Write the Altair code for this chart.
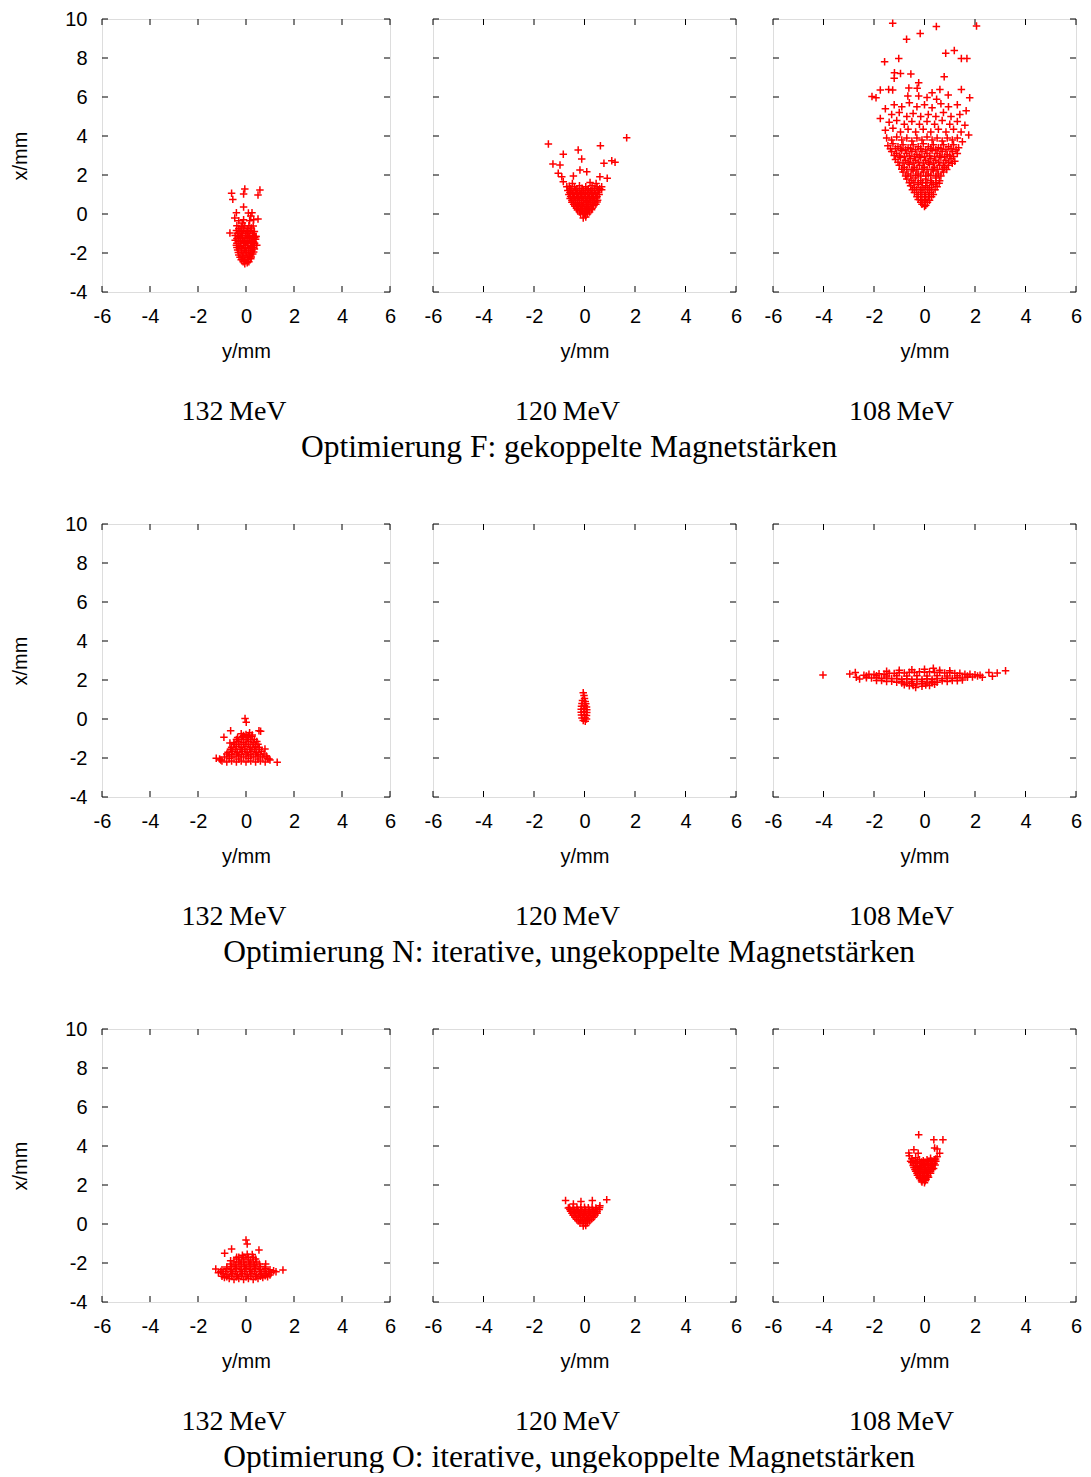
import altair as alt
import pandas as pd

SANS = "Liberation Sans"
SERIF = "Liberation Serif"
RED = "#ff0000"

X_TICKS = [-6, -4, -2, 0, 2, 4, 6]
Y_TICKS = [-4, -2, 0, 2, 4, 6, 8, 10]
ENERGIES = ["132\u2009MeV", "120\u2009MeV", "108\u2009MeV"]
CAPTIONS = [
    "Optimierung F: gekoppelte Magnetstärken",
    "Optimierung N: iterative, ungekoppelte Magnetstärken",
    "Optimierung O: iterative, ungekoppelte Magnetstärken",
]

# (y/mm, x/mm) pairs
F132 = [
    (-0.05, -2.55), (0.05, -2.5),
    (-0.2, -2.35), (-0.05, -2.4), (0.1, -2.35), (0.2, -2.3),
    (-0.3, -2.1), (-0.15, -2.15), (0.0, -2.1), (0.15, -2.15), (0.28, -2.05),
    (-0.35, -1.85), (-0.2, -1.9), (-0.05, -1.85), (0.1, -1.9), (0.25, -1.85), (0.35, -1.8),
    (-0.4, -1.6), (-0.25, -1.65), (-0.1, -1.6), (0.05, -1.6), (0.2, -1.65), (0.35, -1.6),
    (-0.45, -1.35), (-0.3, -1.4), (-0.15, -1.35), (0.0, -1.4), (0.15, -1.35), (0.3, -1.4), (0.4, -1.3),
    (-0.45, -1.1), (-0.3, -1.15), (-0.15, -1.1), (0.0, -1.1), (0.15, -1.15), (0.3, -1.1), (0.42, -1.15),
    (-0.4, -0.85), (-0.25, -0.9), (-0.1, -0.85), (0.05, -0.9), (0.2, -0.85), (0.35, -0.9),
    (-0.38, -0.6), (-0.2, -0.65), (-0.05, -0.6), (0.12, -0.6), (0.3, -0.62),
    (-0.3, -0.35), (-0.1, -0.3), (0.15, -0.35), (0.32, -0.3),
    (-0.12, -2.45), (0.12, -2.45),
    (-0.25, -2.22), (-0.08, -2.25), (0.08, -2.22), (0.22, -2.2),
    (-0.32, -1.98), (-0.12, -2.0), (0.02, -1.98), (0.18, -2.0), (0.32, -1.95),
    (-0.38, -1.72), (-0.18, -1.75), (-0.02, -1.72), (0.12, -1.75), (0.28, -1.72),
    (-0.38, -1.5), (-0.22, -1.5), (-0.08, -1.48), (0.08, -1.5), (0.22, -1.48), (0.36, -1.5),
    (-0.38, -1.25), (-0.22, -1.22), (-0.08, -1.25), (0.08, -1.22), (0.22, -1.25), (0.36, -1.22),
    (-0.35, -1.0), (-0.18, -0.98), (-0.02, -1.0), (0.12, -0.98), (0.28, -1.0),
    (-0.3, -0.75), (-0.12, -0.72), (0.05, -0.75), (0.22, -0.72),
    (-0.6, 1.06), (-0.05, 1.28), (0.58, 1.23), (0.5, 0.97), (-0.1, 1.03), (-0.55, 0.75),
    (-0.1, 0.36), (-0.4, 0.07), (-0.47, -0.2), (0.1, 0.05), (0.25, 0.07), (0.5, -0.26),
    (-0.15, -0.46), (-0.67, -0.97), (0.4, -1.16), (0.45, -1.6), (0.2, -0.1),
]

F120 = [
    (-0.05, -0.2), (0.05, -0.15),
    (-0.15, 0.0), (0.0, 0.02), (0.12, 0.0),
    (-0.28, 0.2), (-0.13, 0.18), (0.02, 0.2), (0.17, 0.2), (0.28, 0.22),
    (-0.38, 0.4), (-0.23, 0.38), (-0.08, 0.4), (0.07, 0.4), (0.22, 0.38), (0.36, 0.42),
    (-0.5, 0.6), (-0.35, 0.6), (-0.2, 0.58), (-0.05, 0.6), (0.1, 0.62), (0.25, 0.6), (0.4, 0.6), (0.5, 0.62),
    (-0.57, 0.8), (-0.42, 0.82), (-0.27, 0.8), (-0.12, 0.8), (0.03, 0.82), (0.18, 0.8), (0.33, 0.8), (0.48, 0.82),
    (-0.62, 1.0), (-0.47, 1.02), (-0.32, 1.0), (-0.17, 1.0), (-0.02, 1.02), (0.13, 1.0), (0.28, 1.0), (0.43, 1.02), (0.58, 1.0),
    (-0.66, 1.2), (-0.5, 1.22), (-0.35, 1.2), (-0.2, 1.2), (-0.05, 1.22), (0.1, 1.2), (0.25, 1.2), (0.4, 1.22), (0.55, 1.2), (0.68, 1.25),
    (-0.6, 1.42), (-0.4, 1.4), (-0.2, 1.45), (0.05, 1.4), (0.3, 1.45), (0.5, 1.4),
    (-0.2, 0.1), (-0.07, 0.1), (0.07, 0.1), (0.2, 0.1),
    (-0.32, 0.3), (-0.17, 0.3), (-0.02, 0.3), (0.13, 0.3), (0.3, 0.3),
    (-0.43, 0.5), (-0.28, 0.5), (-0.13, 0.5), (0.02, 0.5), (0.17, 0.5), (0.32, 0.5), (0.45, 0.5),
    (-0.5, 0.7), (-0.35, 0.7), (-0.2, 0.7), (-0.05, 0.7), (0.1, 0.7), (0.25, 0.7), (0.4, 0.7), (0.52, 0.7),
    (-0.55, 0.9), (-0.4, 0.9), (-0.25, 0.9), (-0.1, 0.9), (0.05, 0.9), (0.2, 0.9), (0.35, 0.9), (0.5, 0.9),
    (-0.58, 1.1), (-0.42, 1.1), (-0.27, 1.1), (-0.12, 1.1), (0.03, 1.1), (0.18, 1.1), (0.33, 1.1), (0.5, 1.1),
    (-0.55, 1.3), (-0.3, 1.3), (-0.1, 1.32), (0.15, 1.3), (0.4, 1.32), (0.6, 1.3),
    (-1.43, 3.59), (1.67, 3.91), (-0.84, 3.06), (-0.25, 3.28), (0.63, 3.5), (-0.11, 2.82),
    (-1.25, 2.56), (-0.97, 2.51), (0.77, 2.6), (1.08, 2.73), (1.21, 2.65), (-0.18, 2.26),
    (0.09, 2.17), (-1.04, 2.09), (-0.9, 1.91), (-0.44, 1.95), (0.61, 1.91), (0.9, 1.83),
    (-0.84, 1.66), (-0.48, 1.57), (0.22, 1.62), (0.46, 1.57), (0.68, 1.4), (-0.7, 1.4),
]

F108 = [
    (-1.26, 9.78), (0.47, 9.62), (2.06, 9.64), (-0.17, 9.26), (-0.71, 8.96), (0.84, 8.24),
    (1.18, 8.38), (1.46, 7.98), (1.68, 7.97), (-1.58, 7.81), (-1.02, 7.98), (-1.19, 7.25),
    (-0.95, 7.21), (-1.2, 6.96), (-0.54, 7.18), (0.78, 7.04), (-0.23, 6.73), (-1.75, 6.36),
    (-1.42, 6.39), (-1.26, 6.36), (-0.62, 6.46), (-0.29, 6.45), (1.46, 6.39), (-2.08, 6.02),
    (-1.92, 5.96), (1.79, 5.96), (0.3, 6.22), (0.61, 6.39), (0.94, 6.1), (-0.23, 6.05),
    (-0.66, 6.05), (0.1, 5.98), (0.48, 5.88),
    (-1.55, 5.4), (-1.2, 5.6), (-0.9, 5.5), (-0.6, 5.7), (-0.3, 5.5), (0.0, 5.6), (0.3, 5.45),
    (0.65, 5.65), (0.95, 5.5), (1.3, 5.6), (1.65, 5.3),
    (-1.3, 5.1), (-1.0, 5.2), (-0.7, 5.0), (-0.45, 5.15), (-0.15, 5.0), (0.15, 5.1), (0.45, 5.0),
    (0.75, 5.2), (1.05, 5.0), (1.4, 5.1),
    (-1.75, 4.9), (-1.4, 4.7), (-1.1, 4.8), (-0.8, 4.6), (-0.5, 4.75), (-0.2, 4.6), (0.1, 4.75),
    (0.4, 4.6), (0.7, 4.8), (1.0, 4.6), (1.3, 4.75), (1.6, 4.55),
    (-1.55, 4.3), (-1.25, 4.4), (-0.95, 4.2), (-0.65, 4.35), (-0.35, 4.2), (-0.05, 4.35), (0.25, 4.2),
    (0.55, 4.35), (0.85, 4.2), (1.15, 4.35), (1.45, 4.2), (1.75, 4.05),
    (-1.5, 3.9), (-1.3, 3.8), (-1.1, 3.95), (-0.9, 3.8), (-0.7, 3.9), (-0.5, 3.75), (-0.3, 3.9),
    (-0.1, 3.8), (0.1, 3.95), (0.3, 3.8), (0.5, 3.9), (0.7, 3.75), (0.9, 3.9), (1.1, 3.8), (1.3, 3.9), (1.5, 3.7),
    (-1.45, 3.5), (-1.25, 3.6), (-1.05, 3.45), (-0.85, 3.55), (-0.65, 3.4), (-0.45, 3.55), (-0.25, 3.45),
    (-0.05, 3.6), (0.15, 3.45), (0.35, 3.55), (0.55, 3.4), (0.75, 3.55), (0.95, 3.45), (1.15, 3.55), (1.35, 3.4),
    (-1.3, 3.2), (-1.1, 3.1), (-0.9, 3.25), (-0.7, 3.1), (-0.5, 3.2), (-0.3, 3.05), (-0.1, 3.2),
    (0.1, 3.1), (0.3, 3.25), (0.5, 3.1), (0.7, 3.2), (0.9, 3.05), (1.1, 3.2), (1.3, 3.1),
    (-1.15, 2.8), (-0.95, 2.9), (-0.75, 2.75), (-0.55, 2.85), (-0.35, 2.75), (-0.15, 2.9), (0.05, 2.75),
    (0.25, 2.85), (0.45, 2.75), (0.65, 2.9), (0.85, 2.75), (1.05, 2.85), (1.2, 2.7),
    (-1.0, 2.5), (-0.8, 2.4), (-0.6, 2.55), (-0.4, 2.4), (-0.2, 2.5), (0.0, 2.4), (0.2, 2.55),
    (0.4, 2.4), (0.6, 2.5), (0.8, 2.4), (0.95, 2.5),
    (-0.85, 2.15), (-0.65, 2.05), (-0.45, 2.2), (-0.25, 2.05), (-0.05, 2.15), (0.15, 2.05),
    (0.35, 2.2), (0.55, 2.05), (0.75, 2.15),
    (-0.7, 1.8), (-0.5, 1.7), (-0.35, 1.85), (-0.15, 1.7), (0.05, 1.8), (0.25, 1.7), (0.45, 1.85), (0.6, 1.7),
    (-0.55, 1.45), (-0.4, 1.35), (-0.25, 1.5), (-0.1, 1.35), (0.05, 1.45), (0.2, 1.35), (0.35, 1.5), (0.5, 1.4),
    (-0.4, 1.1), (-0.25, 1.0), (-0.1, 1.1), (0.05, 1.0), (0.2, 1.1), (0.35, 1.0),
    (-0.25, 0.75), (-0.1, 0.7), (0.05, 0.75), (0.2, 0.7),
    (-0.1, 0.5), (0.05, 0.45), (0.0, 0.38),
    (-1.35, 3.35), (-1.15, 3.35), (-0.95, 3.35), (-0.75, 3.3), (-0.55, 3.35), (-0.35, 3.3), (-0.15, 3.35),
    (0.05, 3.3), (0.25, 3.35), (0.45, 3.3), (0.65, 3.35), (0.85, 3.3), (1.05, 3.35), (1.25, 3.3),
    (-1.2, 3.0), (-1.0, 2.98), (-0.8, 2.95), (-0.6, 2.98), (-0.4, 2.95), (-0.2, 2.98), (0.0, 2.95),
    (0.2, 2.98), (0.4, 2.95), (0.6, 2.98), (0.8, 2.95), (1.0, 2.98), (1.15, 2.95),
    (-1.05, 2.65), (-0.85, 2.62), (-0.65, 2.65), (-0.45, 2.62), (-0.25, 2.65), (-0.05, 2.62),
    (0.15, 2.65), (0.35, 2.62), (0.55, 2.65), (0.75, 2.62), (0.95, 2.65), (1.1, 2.6),
    (-0.9, 2.3), (-0.7, 2.28), (-0.5, 2.3), (-0.3, 2.28), (-0.1, 2.3), (0.1, 2.28), (0.3, 2.3),
    (0.5, 2.28), (0.7, 2.3), (0.88, 2.28),
    (-0.75, 1.95), (-0.55, 1.95), (-0.35, 1.97), (-0.15, 1.95), (0.05, 1.95), (0.25, 1.97), (0.45, 1.95), (0.65, 1.95),
    (-0.6, 1.6), (-0.42, 1.6), (-0.25, 1.6), (-0.08, 1.6), (0.1, 1.6), (0.28, 1.6), (0.45, 1.6), (0.58, 1.58),
    (-0.48, 1.25), (-0.32, 1.25), (-0.17, 1.25), (-0.02, 1.25), (0.13, 1.25), (0.28, 1.25), (0.42, 1.25),
    (-0.3, 0.88), (-0.15, 0.88), (0.0, 0.88), (0.15, 0.88), (0.28, 0.88),
    (-0.15, 0.6), (0.0, 0.6), (0.12, 0.6),
]

N132 = [
    (-1.0, -2.15), (-0.8, -2.2), (-0.6, -2.15), (-0.4, -2.2), (-0.2, -2.15), (0.0, -2.2),
    (0.2, -2.15), (0.4, -2.2), (0.6, -2.15), (0.8, -2.2), (1.0, -2.1),
    (-0.9, -1.95), (-0.7, -1.9), (-0.5, -1.95), (-0.3, -1.9), (-0.1, -1.95), (0.1, -1.9),
    (0.3, -1.95), (0.5, -1.9), (0.7, -1.95), (0.85, -1.9),
    (-0.75, -1.7), (-0.55, -1.65), (-0.35, -1.7), (-0.15, -1.65), (0.05, -1.7), (0.25, -1.65),
    (0.45, -1.7), (0.65, -1.65),
    (-0.6, -1.45), (-0.4, -1.4), (-0.2, -1.45), (0.0, -1.4), (0.2, -1.45), (0.4, -1.4), (0.55, -1.45),
    (-0.5, -1.2), (-0.3, -1.15), (-0.1, -1.2), (0.1, -1.15), (0.3, -1.2), (0.45, -1.15),
    (-0.35, -0.95), (-0.15, -0.9), (0.05, -0.95), (0.25, -0.9),
    (-0.2, -0.75), (0.0, -0.8), (0.15, -0.7),
    (-1.1, -2.05), (-0.7, -2.02), (-0.3, -2.05), (0.1, -2.02), (0.5, -2.05), (0.9, -2.02),
    (-0.8, -1.8), (-0.6, -1.82), (-0.4, -1.8), (-0.2, -1.82), (0.0, -1.8), (0.2, -1.82),
    (0.4, -1.8), (0.6, -1.82), (0.75, -1.8),
    (-0.65, -1.55), (-0.45, -1.55), (-0.25, -1.55), (-0.05, -1.55), (0.15, -1.55), (0.35, -1.55), (0.55, -1.55),
    (-0.5, -1.3), (-0.3, -1.3), (-0.1, -1.3), (0.1, -1.3), (0.3, -1.3), (0.5, -1.3),
    (-0.4, -1.05), (-0.2, -1.05), (0.0, -1.05), (0.2, -1.05), (0.35, -1.05),
    (-0.1, -0.85), (0.1, -0.85),
    (-0.04, 0.03), (0.01, -0.17), (-0.64, -0.6), (0.54, -0.6), (0.61, -0.63), (-0.92, -0.94),
    (0.26, -0.82), (-0.67, -1.23), (0.79, -1.54), (-1.24, -2.01), (-1.05, -2.1), (1.3, -2.22), (0.96, -2.05),
]

N120 = [
    (-0.05, 1.35), (-0.02, 1.2), (0.0, 1.05), (-0.08, 0.95), (0.03, 0.9), (-0.1, 0.8), (0.05, 0.78),
    (-0.12, 0.65), (0.0, 0.68), (0.08, 0.62), (-0.13, 0.5), (-0.02, 0.52), (0.09, 0.48),
    (-0.13, 0.35), (-0.02, 0.38), (0.09, 0.33), (-0.12, 0.2), (0.0, 0.22), (0.08, 0.18),
    (-0.1, 0.05), (0.02, 0.06), (0.08, 0.0), (-0.05, -0.08), (0.03, -0.12),
]

N108 = [
    (-2.4, 2.25), (-2.2, 2.3), (-2.0, 2.28), (-1.8, 2.32), (-1.6, 2.3), (-1.4, 2.35), (-1.2, 2.33),
    (-1.0, 2.38), (-0.8, 2.36), (-0.6, 2.4), (-0.4, 2.38), (-0.2, 2.42), (0.0, 2.4), (0.2, 2.42),
    (0.4, 2.38), (0.6, 2.4), (0.8, 2.36), (1.0, 2.38), (1.2, 2.34), (1.4, 2.35), (1.6, 2.3),
    (1.8, 2.3), (2.0, 2.27), (2.2, 2.25),
    (-2.3, 2.12), (-2.1, 2.1), (-1.9, 2.12), (-1.7, 2.08), (-1.5, 2.1), (-1.3, 2.06), (-1.1, 2.08),
    (-0.9, 2.04), (-0.7, 2.06), (-0.5, 2.02), (-0.3, 2.04), (-0.1, 2.02), (0.1, 2.06), (0.3, 2.04),
    (0.5, 2.08), (0.7, 2.06), (0.9, 2.1), (1.1, 2.08), (1.3, 2.12), (1.5, 2.1), (1.7, 2.14), (1.9, 2.15),
    (-2.3, 2.2), (-1.9, 2.22), (-1.5, 2.2), (-1.1, 2.22), (-0.7, 2.2), (-0.3, 2.22), (0.1, 2.2),
    (0.5, 2.22), (0.9, 2.2), (1.3, 2.22), (1.7, 2.2), (2.1, 2.2),
    (-1.9, 1.98), (-1.5, 1.92), (-1.1, 1.88), (-0.9, 1.85), (-0.7, 1.84), (-0.5, 1.82), (-0.3, 1.8),
    (-0.1, 1.82), (0.1, 1.85), (0.3, 1.86), (0.5, 1.88), (0.9, 1.92), (1.3, 1.96),
    (-1.7, 1.97), (-1.3, 1.93), (-0.9, 1.94), (-0.5, 1.92), (-0.1, 1.92), (0.3, 1.94), (0.7, 1.96),
    (1.1, 1.98), (1.5, 2.0),
    (-0.8, 1.76), (-0.45, 1.72), (0.05, 1.74), (0.4, 1.78),
    (-0.6, 1.7), (-0.35, 1.62), (-0.1, 1.68), (0.2, 1.72),
    (-1.0, 2.5), (-0.5, 2.52), (0.0, 2.55), (0.35, 2.6), (0.6, 2.5), (1.0, 2.48), (-1.5, 2.45),
    (-4.02, 2.26), (-2.96, 2.31), (-2.74, 2.39), (-2.7, 2.14), (-2.57, 2.05), (2.55, 2.39),
    (2.69, 2.19), (2.88, 2.36), (3.21, 2.48), (2.29, 2.14),
]

O132 = [
    (-0.9, -2.75), (-0.7, -2.8), (-0.5, -2.85), (-0.3, -2.8), (-0.1, -2.85), (0.1, -2.8),
    (0.3, -2.85), (0.5, -2.8), (0.7, -2.75), (0.9, -2.7),
    (-1.15, -2.5), (-0.95, -2.55), (-0.75, -2.6), (-0.55, -2.55), (-0.35, -2.6), (-0.15, -2.55),
    (0.05, -2.6), (0.25, -2.55), (0.45, -2.6), (0.65, -2.55), (0.85, -2.55), (1.05, -2.5), (1.25, -2.45),
    (-1.0, -2.35), (-0.8, -2.3), (-0.6, -2.35), (-0.4, -2.3), (-0.2, -2.35), (0.0, -2.3),
    (0.2, -2.35), (0.4, -2.3), (0.6, -2.35), (0.8, -2.3), (1.0, -2.35),
    (-0.65, -2.05), (-0.45, -2.1), (-0.25, -2.05), (-0.05, -2.1), (0.15, -2.05), (0.35, -2.1), (0.55, -2.05),
    (-0.4, -1.8), (-0.2, -1.85), (0.0, -1.8), (0.2, -1.85), (0.4, -1.8),
    (-0.15, -1.6), (0.05, -1.55),
    (-1.0, -2.68), (-0.8, -2.7), (-0.6, -2.68), (-0.4, -2.7), (-0.2, -2.68), (0.0, -2.7),
    (0.2, -2.68), (0.4, -2.7), (0.6, -2.68), (0.8, -2.65), (1.0, -2.62),
    (-1.05, -2.43), (-0.85, -2.45), (-0.65, -2.43), (-0.45, -2.45), (-0.25, -2.43), (-0.05, -2.45),
    (0.15, -2.43), (0.35, -2.45), (0.55, -2.43), (0.75, -2.45), (0.95, -2.43), (1.15, -2.4),
    (-0.8, -2.2), (-0.6, -2.18), (-0.4, -2.2), (-0.2, -2.18), (0.0, -2.2), (0.2, -2.18),
    (0.4, -2.2), (0.6, -2.18), (0.8, -2.2),
    (-0.5, -1.95), (-0.3, -1.95), (-0.1, -1.95), (0.1, -1.95), (0.3, -1.95), (0.45, -1.95),
    (-0.3, -1.7), (-0.1, -1.7), (0.1, -1.7), (0.3, -1.7),
    (0.0, -0.82), (0.05, -1.03), (-0.6, -1.28), (0.54, -1.33), (-0.89, -1.5), (0.26, -1.57),
    (-1.26, -2.31), (1.54, -2.36), (0.82, -2.05), (-0.39, -1.71), (-0.64, -1.88),
]

O120 = [
    (-0.6, 0.85), (-0.45, 0.82), (-0.3, 0.86), (-0.15, 0.84), (0.0, 0.86), (0.15, 0.84), (0.3, 0.85), (0.45, 0.82), (0.6, 0.85),
    (-0.55, 0.65), (-0.4, 0.62), (-0.25, 0.66), (-0.1, 0.64), (0.05, 0.65), (0.2, 0.63), (0.35, 0.66), (0.5, 0.64),
    (-0.45, 0.45), (-0.3, 0.42), (-0.15, 0.46), (0.0, 0.44), (0.15, 0.45), (0.3, 0.42), (0.42, 0.46),
    (-0.32, 0.25), (-0.17, 0.22), (-0.02, 0.26), (0.13, 0.24), (0.28, 0.25),
    (-0.18, 0.05), (-0.03, 0.02), (0.12, 0.05),
    (-0.05, -0.1), (0.05, -0.08),
    (-0.58, 0.75), (-0.43, 0.75), (-0.28, 0.75), (-0.13, 0.75), (0.02, 0.75), (0.17, 0.75),
    (0.32, 0.75), (0.47, 0.75), (0.58, 0.75),
    (-0.5, 0.55), (-0.35, 0.55), (-0.2, 0.55), (-0.05, 0.55), (0.1, 0.55), (0.25, 0.55), (0.4, 0.55), (0.5, 0.55),
    (-0.38, 0.35), (-0.23, 0.35), (-0.08, 0.35), (0.07, 0.35), (0.22, 0.35), (0.36, 0.35),
    (-0.25, 0.15), (-0.1, 0.15), (0.05, 0.15), (0.2, 0.15),
    (-0.75, 1.2), (-0.44, 1.03), (-0.14, 1.16), (0.31, 1.2), (0.88, 1.25), (0.61, 0.94), (-0.64, 0.82),
]

O108 = [
    (-0.6, 3.5), (-0.5, 3.35), (-0.35, 3.4), (-0.2, 3.3), (-0.05, 3.25), (0.1, 3.3), (0.25, 3.25), (0.4, 3.3), (0.5, 3.45),
    (-0.5, 3.15), (-0.35, 3.1), (-0.2, 3.12), (-0.05, 3.05), (0.1, 3.1), (0.25, 3.08), (0.38, 3.12),
    (-0.42, 2.9), (-0.28, 2.92), (-0.14, 2.88), (0.0, 2.9), (0.14, 2.88), (0.28, 2.92), (0.36, 2.85),
    (-0.35, 2.7), (-0.2, 2.68), (-0.06, 2.7), (0.08, 2.68), (0.22, 2.7),
    (-0.28, 2.5), (-0.14, 2.48), (0.0, 2.5), (0.13, 2.48),
    (-0.18, 2.32), (-0.05, 2.3), (0.06, 2.3),
    (-0.1, 2.15), (0.0, 2.12),
    (-0.55, 3.22), (-0.42, 3.25), (-0.28, 3.2), (-0.12, 3.18), (0.02, 3.18), (0.18, 3.2), (0.32, 3.2), (0.45, 3.22),
    (-0.45, 3.0), (-0.3, 3.0), (-0.15, 2.98), (0.0, 3.0), (0.15, 3.0), (0.3, 3.0), (0.42, 3.02),
    (-0.38, 2.8), (-0.24, 2.8), (-0.1, 2.8), (0.04, 2.8), (0.18, 2.8), (0.3, 2.8),
    (-0.3, 2.6), (-0.16, 2.6), (-0.02, 2.6), (0.12, 2.6), (0.24, 2.6),
    (-0.22, 2.4), (-0.08, 2.4), (0.06, 2.4), (0.16, 2.4),
    (-0.12, 2.22), (0.03, 2.22),
    (-0.23, 4.58), (0.37, 4.32), (0.73, 4.32), (0.4, 3.9), (0.5, 3.85), (0.6, 3.63),
    (-0.62, 3.64), (-0.42, 3.81), (-0.25, 3.63), (0.24, 3.37), (0.44, 3.33),
]

ROWS = [[F132, F120, F108], [N132, N120, N108], [O132, O120, O108]]
WIDTHS = [288, 303, 303]
HEIGHT = 273
ENERGY_DX = [-12, -17, -23]
TICK = 6
PLUS = "M-1,0L1,0M0,-1L0,1"
LABEL_EXPR = "'' + datum.value"


def panel(points, width, first, energy, dx):
    xscale = alt.Scale(domain=[-6, 6], nice=False, zero=False)
    yscale = alt.Scale(domain=[-4, 10], nice=False, zero=False)
    xaxis = alt.Axis(
        values=X_TICKS, ticks=False, tickSize=0, domain=False, grid=False,
        labelFlush=False, labelOverlap=False, labelPadding=14, labelExpr=LABEL_EXPR,
        labelFont=SANS, labelFontSize=20, labelColor="black",
        title="y/mm", titleFont=SANS, titleFontSize=20, titleFontWeight="normal",
        titleColor="black", titlePadding=15,
    )
    if first:
        yaxis = alt.Axis(
            values=Y_TICKS, ticks=False, tickSize=0, domain=False, grid=False,
            labelOverlap=False, labelPadding=15, labelExpr=LABEL_EXPR,
            labelFont=SANS, labelFontSize=20, labelColor="black",
            title="x/mm", titleFont=SANS, titleFontSize=20, titleFontWeight="normal",
            titleColor="black", titlePadding=34,
        )
        yenc = alt.Y("v:Q", scale=yscale, axis=yaxis)
    else:
        yenc = alt.Y("v:Q", scale=yscale, axis=None)
    xenc = alt.X("h:Q", scale=xscale, axis=xaxis)

    xt = alt.Data(values=[{"h": t} for t in X_TICKS])
    yt = alt.Data(values=[{"v": t} for t in Y_TICKS])

    top = alt.Chart(xt).mark_rule(color="black", strokeWidth=1).encode(
        x=xenc, y=alt.value(0), y2=alt.value(TICK))
    bottom = alt.Chart(xt).mark_rule(color="black", strokeWidth=1).encode(
        x=xenc, y=alt.value(HEIGHT), y2=alt.value(HEIGHT - TICK))
    left = alt.Chart(yt).mark_rule(color="black", strokeWidth=1).encode(
        y=yenc, x=alt.value(0), x2=alt.value(TICK))
    right = alt.Chart(yt).mark_rule(color="black", strokeWidth=1).encode(
        y=yenc, x=alt.value(width - TICK), x2=alt.value(width))

    df = pd.DataFrame(points, columns=["h", "v"])
    pts = alt.Chart(df).mark_point(
        shape=PLUS, size=56, filled=False, stroke=RED, strokeWidth=1.5, opacity=1
    ).encode(x=xenc, y=yenc)

    return alt.layer(top, bottom, left, right, pts).properties(
        width=width, height=HEIGHT,
        title=alt.TitleParams(
            energy, orient="bottom", anchor="middle", frame="group",
            font=SERIF, fontSize=28, fontWeight="normal", color="black",
            offset=37, dx=dx,
        ),
    )


rows = []
for r, row in enumerate(ROWS):
    p = [panel(row[i], WIDTHS[i], i == 0, ENERGIES[i], ENERGY_DX[i]) for i in range(3)]
    rows.append(
        alt.hconcat(
            p[0], alt.hconcat(p[1], p[2], spacing=20), spacing=26,
            title=alt.TitleParams(
                CAPTIONS[r], orient="bottom", anchor="middle", frame="bounds",
                font=SERIF, fontSize=31.5, fontWeight="normal", color="black",
                offset=5, dx=23,
            ),
        )
    )

chart = alt.vconcat(*rows, spacing=50).properties(
    padding={"left": 2, "top": 0, "right": 0, "bottom": 0}
).configure_view(
    stroke="black", strokeWidth=1
).configure(background="white")

chart.save("out.html", embed_options={"renderer": "svg", "actions": False})
